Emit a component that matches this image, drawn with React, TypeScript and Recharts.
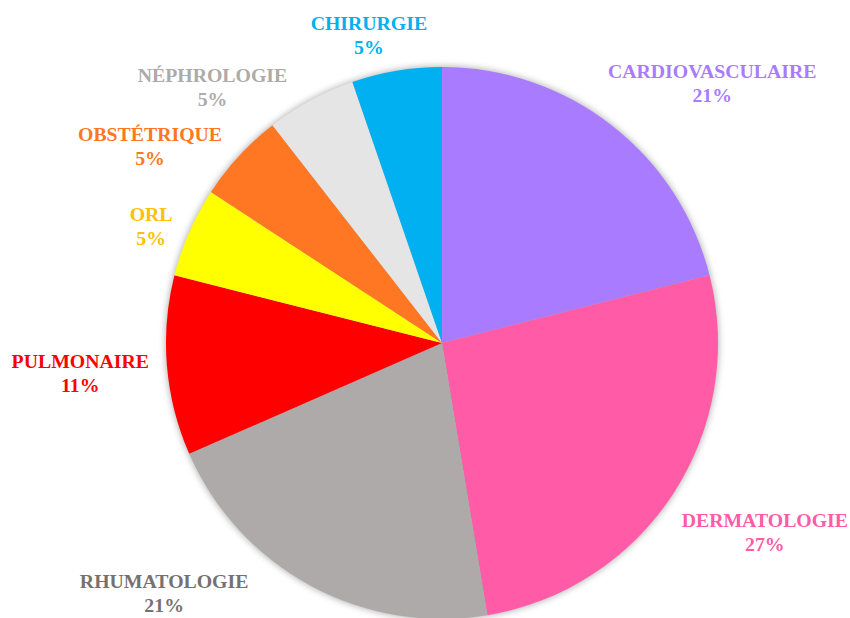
import React from 'react';
import { PieChart, Pie, Cell } from 'recharts';

const categories = ['CARDIOVASCULAIRE', 'DERMATOLOGIE', 'RHUMATOLOGIE', 'PULMONAIRE', 'ORL', 'OBSTÉTRIQUE', 'NÉPHROLOGIE', 'CHIRURGIE'];
const counts = [4, 5, 4, 2, 1, 1, 1, 1];
const percentLabels = ['21%', '27%', '21%', '11%', '5%', '5%', '5%', '5%'];
const sliceColors = ['#A97CFF', '#FF5BA7', '#AEAAAA', '#FF0000', '#FFFF00', '#FF7722', '#E6E5E5', '#00B0F0'];
const labelColors = ['#A97CFF', '#FF5BA7', '#767171', '#FF0000', '#FFC000', '#FF7722', '#AEAAAA', '#00B0F0'];

const W = 850;
const H = 618;
const CX = 442;
const CY = 343;
const R = 276;
const FONT_SIZE = 19.8;
const FONT_FAMILY = "'Liberation Serif', 'Times New Roman', Times, serif";
const FONT = `bold ${FONT_SIZE}px ${FONT_FAMILY}`;

const data = categories.map((name, i) => ({ name, value: counts[i] }));
const shadowData = [{ name: 'shadow', value: 1 }];

let ctx: CanvasRenderingContext2D | null = null;
function measure(t: string): number {
  if (!ctx) ctx = document.createElement('canvas').getContext('2d');
  if (!ctx) return t.length * FONT_SIZE * 0.7;
  ctx.font = FONT;
  return ctx.measureText(t).width;
}

const clamp = (v: number, a: number, b: number) => Math.max(a, Math.min(b, v));

function place(cx: number, cy: number, ra: number, thetaDeg: number, hw: number) {
  const t = (thetaDeg * Math.PI) / 180;
  const ux = Math.sin(t);
  const uy = -Math.cos(t);
  const px = cx + ra * ux;
  const py = cy + ra * uy;
  const sx = clamp(ux * 2.5, -1, 1);
  const sy = clamp(uy * 2.5, -1, 1);
  let wv = 1;
  if (ux < 0 && uy < 0) wv = clamp((0.35 - Math.abs(ux)) * 5, 0, 1);
  const g = ux > 0 ? 3 - 20 * Math.max(0, -uy) : 3;
  return { bx: px + sx * (hw + g), by: py + sy * 30 * wv, ux };
}

const renderLabel = (props: any) => {
  const { cx, cy, midAngle, outerRadius, index } = props;
  let theta = 90 - midAngle;
  theta = ((theta % 360) + 360) % 360;
  const ra = outerRadius + 15;
  const w = Math.max(measure(categories[index]), measure(percentLabels[index]));
  const hw = w / 2;
  const hh = 19;
  let p = place(cx, cy, ra, theta, hw);
  if (p.by > H - 24) {
    let found = false;
    for (let d = 0.5; d <= 45 && !found; d += 0.5) {
      for (const s of [1, -1]) {
        const q = place(cx, cy, ra, theta + s * d, hw);
        if (q.by <= H - 24) {
          p = q;
          found = true;
          break;
        }
      }
    }
  }
  let bx = clamp(p.bx, 2 + hw, W - 2 - hw);
  const by = clamp(p.by, 35, H - 24);
  const pr = outerRadius + 7;
  const top = by - hh;
  const bottom = by + hh;
  let dyn = 0;
  if (top > cy) dyn = top - cy;
  else if (bottom < cy) dyn = cy - bottom;
  const left = bx - hw;
  const right = bx + hw;
  let dxn = 0;
  if (left > cx) dxn = left - cx;
  else if (right < cx) dxn = cx - right;
  if (Math.hypot(dxn, dyn) < pr && dyn < pr) {
    const half = Math.sqrt(pr * pr - dyn * dyn);
    if (p.ux < 0) bx = cx - half - hw;
    else bx = cx + half + hw;
  }
  const textStyle = { fontFamily: FONT_FAMILY, fontWeight: 700, fontSize: FONT_SIZE };
  return (
    <text key={`lbl-${index}`} x={bx} y={by} textAnchor="middle" fill={labelColors[index]} style={textStyle}>
      <tspan x={bx} y={by - 5}>{categories[index]}</tspan>
      <tspan x={bx} y={by + 19}>{percentLabels[index]}</tspan>
    </text>
  );
};

export default function App() {
  return (
    <div style={{ position: 'absolute', left: 0, top: 0, width: W, height: H, background: '#fff' }}>
      <PieChart width={W} height={H} margin={{ top: 0, right: 0, bottom: 0, left: 0 }}>
        <Pie
          data={shadowData}
          dataKey="value"
          cx={CX}
          cy={CY}
          outerRadius={R + 1}
          startAngle={90}
          endAngle={-270}
          stroke="none"
          label={false}
          labelLine={false}
          isAnimationActive={false}
        >
          <Cell fill="#000" fillOpacity={0.28} style={{ filter: 'blur(3px)' }} />
        </Pie>
        <Pie
          data={data}
          dataKey="value"
          nameKey="name"
          cx={CX}
          cy={CY}
          outerRadius={R}
          startAngle={90}
          endAngle={-270}
          stroke="none"
          label={renderLabel}
          labelLine={false}
          isAnimationActive={false}
        >
          {data.map((d, i) => (
            <Cell key={d.name} fill={sliceColors[i]} />
          ))}
        </Pie>
      </PieChart>
    </div>
  );
}
